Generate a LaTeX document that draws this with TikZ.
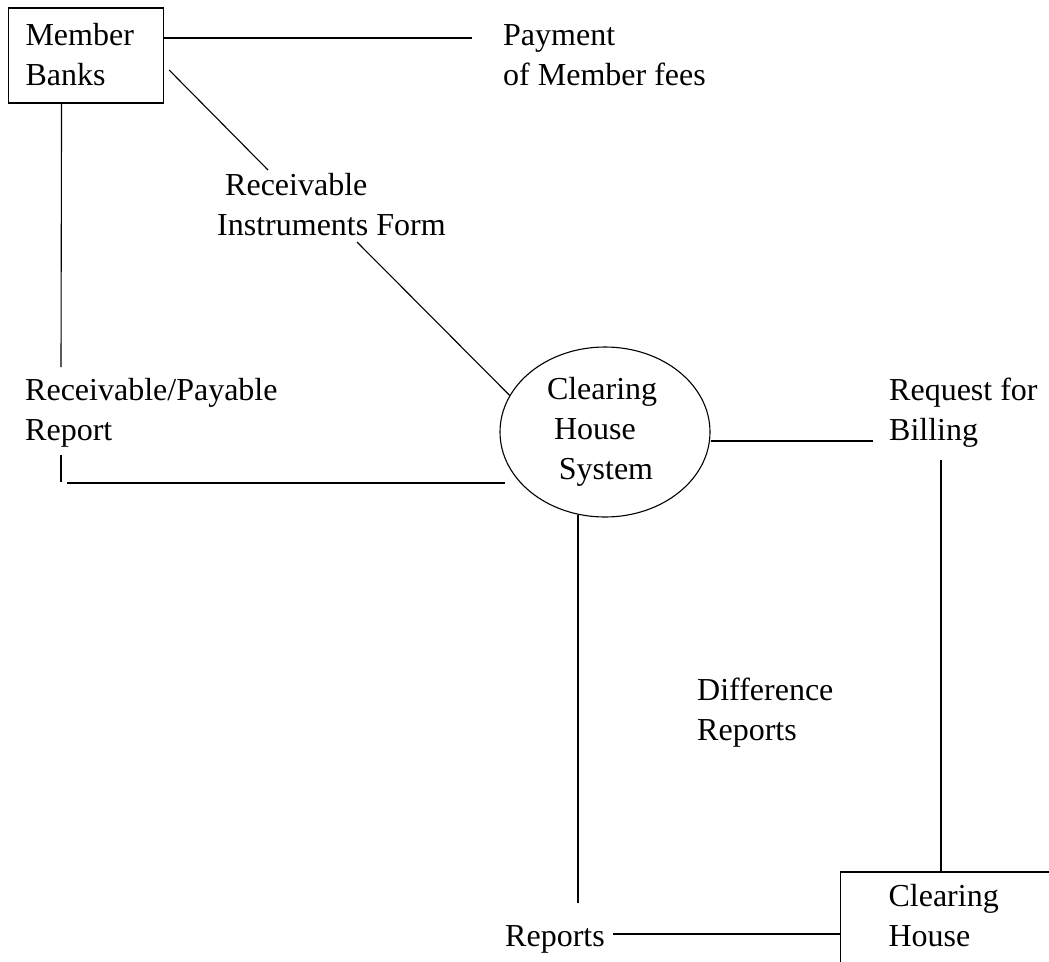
\documentclass[tikz,border=0pt]{standalone}
\usepackage{fontspec}
\setmainfont{Liberation Serif}
\usetikzlibrary{shapes.geometric}

% two left-aligned lines whose reference point is the first baseline
\newcommand\twolines[2]{\vtop{\baselineskip=40pt\hbox{#1}\hbox{#2}}}

\begin{document}
\begin{tikzpicture}[x=1pt,y=-1pt,
  conn/.style={line width=1.1pt},
  lbl/.style={anchor=base west, inner sep=0pt},
  boxed/.style={draw, line width=1.1pt, inner sep=0pt, anchor=base west},
  bubble/.style={ellipse, draw, line width=1.1pt, inner sep=0pt,
                 minimum width=210pt, minimum height=170pt}]
\useasboundingbox (0,0) rectangle (1049,961);
\clip (0,0) rectangle (1049,961);
\fontsize{32pt}{40pt}\selectfont

% external entities
\node[boxed, text height=37pt, text depth=58pt] (mb) at (8,45)
  {\hbox to 155pt{\kern17pt\twolines{Member}{Banks}\hfil}};
\node[boxed, text height=34pt, text depth=90pt] (ch) at (840,906)
  {\hbox to 260pt{\kern48pt\twolines{Clearing}{House}\hfil}};

% process
\node[bubble] (chs) at (605,432)
  {\vtop{\baselineskip=40pt
     \hbox to 116pt{\hfil Clearing\kern6pt\hfil}
     \hbox to 116pt{\hfil House\kern20pt\hfil}
     \hbox to 116pt{\hfil\kern2pt System\hfil}}};

% data flow labels
\node[lbl] (pay) at (503,45) {\twolines{Payment}{of Member fees}};
\node[lbl] (rif) at (217,195) {\twolines{\kern8pt Receivable}{Instruments Form}};
\node[lbl] (rpr) at (25,400) {\twolines{Receivable/Payable}{Report}};
\node[lbl] (rfb) at (889,400) {\twolines{Request for}{Billing}};
\node[lbl] (diff) at (697,700) {\twolines{Difference}{Reports}};
\node[lbl] (rep) at (505,946) {Reports};

% flows
\draw[conn] ([yshift=17.5pt]mb.east) -- ([xshift=-31pt,yshift=7pt]pay.base west);
\draw[conn] ([xshift=5pt,yshift=-14.5pt]mb.east) -- ([xshift=51pt,yshift=25pt]rif.base west);
\draw[conn] ([xshift=140pt,yshift=-47pt]rif.base west) -- (chs.159);
\draw[conn] ([xshift=-24.5pt]mb.south) -- ([xshift=36pt,yshift=33pt]rpr.base west);
\draw[conn] ([xshift=36pt,yshift=-55pt]rpr.base west) -- ([xshift=36pt,yshift=-82pt]rpr.base west);
\draw[conn] ([xshift=42pt,yshift=-83pt]rpr.base west) -- ([xshift=6pt,yshift=-51pt]chs.west);
\draw[conn] ([yshift=-9pt]chs.east) -- ([xshift=-16pt,yshift=-41pt]rfb.base west);
\draw[conn] ([xshift=52pt,yshift=-60pt]rfb.base west) -- ([xshift=101pt]ch.north west);
\draw[conn] ([xshift=-27pt,yshift=3pt]chs.south) -- ([xshift=73pt,yshift=43pt]rep.base west);
\draw[conn] ([xshift=108pt,yshift=12pt]rep.base west) -- (ch.west);
\end{tikzpicture}
\end{document}
